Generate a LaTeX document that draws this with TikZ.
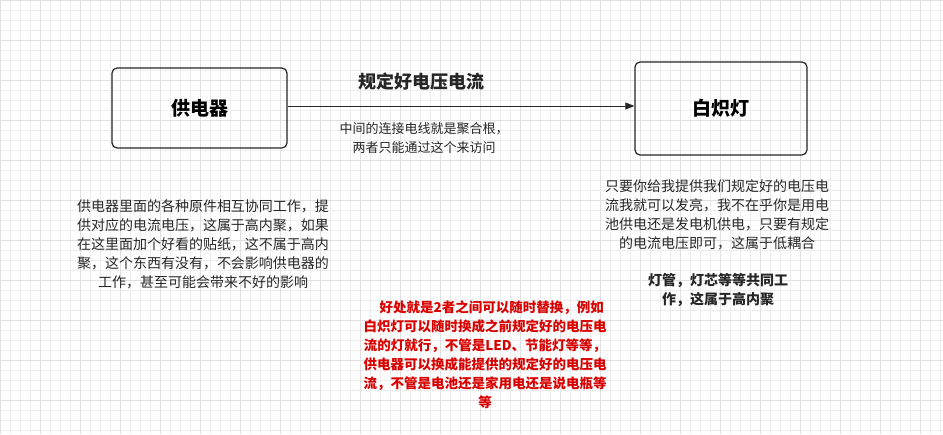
\documentclass[tikz,border=0pt]{standalone}
\usepackage{fontspec}
\setmainfont{Noto Sans CJK SC}
\usetikzlibrary{arrows.meta}
\begin{document}
\begin{tikzpicture}[x=1pt,y=-1pt,
  box/.style={draw=black!85,line width=1.2pt,rounded corners=5pt,font=\bfseries\fontsize{19}{22}\selectfont},
  txt/.style={align=center,font=\fontsize{14}{19}\selectfont,text=black!85},
  red/.style={align=center,font=\bfseries\fontsize{13.5}{19}\selectfont,text=red!85!black}]
\useasboundingbox (0,0) rectangle (943,434);
\fill[white] (0,0) rectangle (943,434);
\foreach \i in {0,10,...,940} \draw[black!7,line width=0.5pt] (\i,0) -- (\i,434);
\foreach \j in {0,10,...,430} \draw[black!7,line width=0.5pt] (0,\j) -- (943,\j);
\foreach \i in {0,40,...,940} \draw[black!12,line width=0.5pt] (\i,0) -- (\i,434);
\foreach \j in {0,40,...,430} \draw[black!12,line width=0.5pt] (0,\j) -- (943,\j);
\node[box,minimum width=175pt,minimum height=80pt] (a) at (199.5,108) {供电器};
\node[box,minimum width=172pt,minimum height=93pt] (b) at (721,108.5) {白炽灯};
\draw[-{Triangle[length=9pt,width=7pt]},line width=1pt,black!85] (a.east |- 0,106) -- (b.west |- 0,106);
\node[font=\bfseries\fontsize{18}{22}\selectfont,text=black!85] (l) at (421,82) {规定好电压电流};
\node[txt,font=\fontsize{13}{19}\selectfont] (m) at (424,138) {中间的连接电线就是聚合根，\\两者只能通过这个来访问};
\node[txt] (lt) at (203,244) {供电器里面的各种原件相互协同工作，提\\供对应的电流电压，这属于高内聚，如果\\在这里面加个好看的贴纸，这不属于高内\\聚，这个东西有没有，不会影响供电器的\\工作，甚至可能会带来不好的影响};
\node[txt] (rt) at (717,215) {只要你给我提供我们规定好的电压电\\流我就可以发亮，我不在乎你是用电\\池供电还是发电机供电，只要有规定\\的电流电压即可，这属于低耦合};
\node[align=center,font=\bfseries\fontsize{14}{19}\selectfont,text=black!85] (rb) at (718,290) {灯管，灯芯等等共同工\\作，这属于高内聚};
\node[red] (r) at (485,355) {\quad 好处就是2者之间可以随时替换，例如\\白炽灯可以随时换成之前规定好的电压电\\流的灯就行，不管是LED、节能灯等等，\\供电器可以换成能提供的规定好的电压电\\流，不管是电池还是家用电还是说电瓶等\\等};
\end{tikzpicture}
\end{document}
